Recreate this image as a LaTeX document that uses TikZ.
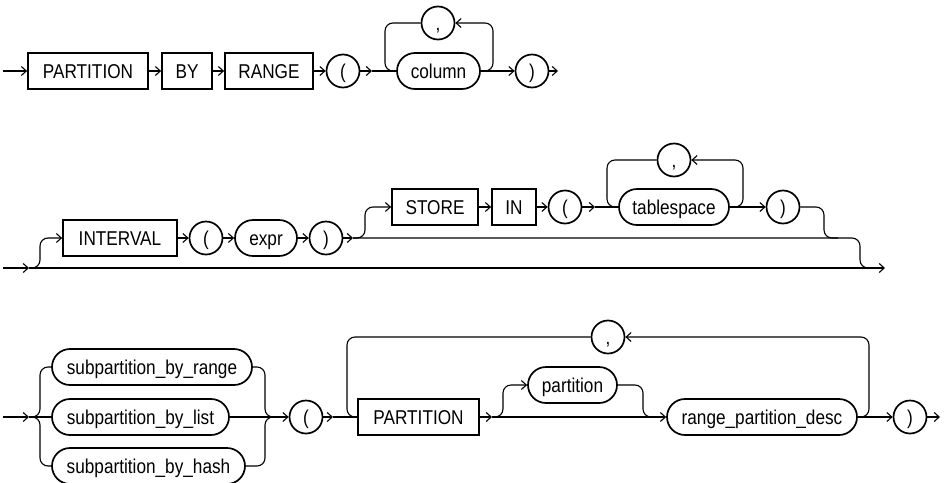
\documentclass[tikz,border=0pt]{standalone}
\usepackage{fontspec}
\setmainfont{Liberation Sans}[FakeStretch=0.86]
\usetikzlibrary{arrows.meta}
\begin{document}
\begin{tikzpicture}[x=1pt,y=-1pt,
  every node/.style={font=\fontsize{20}{23}\selectfont, inner sep=0pt, text height=14.3pt, text depth=0pt},
  kw/.style={draw, line width=1.7pt, minimum height=36pt},
  nt/.style={draw, line width=1.7pt, minimum height=36pt, rounded corners=18pt},
  ch/.style={draw, line width=1.7pt, circle, minimum size=33pt},
  conn/.style={line width=1.1pt, rounded corners=8pt},
  arr/.style={-{Straight Barb[length=5pt,width=9pt]}}]
\useasboundingbox (0,0) rectangle (944,482);

% ---------- Row 1 ----------
\node[kw, minimum width=120pt] (p1) at (88,71) {PARTITION};
\node[kw, minimum width=50pt] (by1) at (187,71) {BY};
\node[kw, minimum width=88pt] (rng1) at (269,71) {RANGE};
\node[ch] (lp1) at (343,71) {(};
\node[nt, minimum width=83pt] (col1) at (438.5,71) {column};
\node[ch] (cm1) at (438,23) {,};
\node[ch] (rp1) at (532,71) {)};
\coordinate (s1) at (3,71);
\coordinate (j1) at (372,71);
\coordinate (e1) at (558,71);
\draw[conn,arr] (s1) -- (p1.west);
\draw[conn,arr] (p1) -- (by1);
\draw[conn,arr] (by1) -- (rng1);
\draw[conn,arr] (rng1) -- (lp1);
\draw[conn,arr] (lp1) -- (j1);
\draw[conn] (j1) -- (col1.west);
\draw[conn,arr] (col1) -- (rp1);
\draw[conn,arr] (rp1) -- (e1);
\draw[conn,arr] (col1.east) -- (493,71) -- (493,23) -- (cm1.east);
\draw[conn] (cm1.west) -- (385,23) -- (385,71) -- (col1.west);

% ---------- Row 2 ----------
\node[kw, minimum width=114pt] (int2) at (120,238) {INTERVAL};
\node[ch] (lp2) at (206,238) {(};
\node[nt, minimum width=62pt] (expr2) at (266,238) {expr};
\node[ch] (rp2) at (326,238) {)};
\node[kw, minimum width=86pt] (store2) at (435,207) {STORE};
\node[kw, minimum width=44pt] (in2) at (514,207) {IN};
\node[ch] (lp2b) at (565,207) {(};
\node[nt, minimum width=110pt] (ts2) at (674,207) {tablespace};
\node[ch] (cm2) at (674,160) {,};
\node[ch] (rp2b) at (783,207) {)};
\coordinate (s2) at (3,268);
\coordinate (b2) at (29,268);
\coordinate (e2) at (885,268);
\coordinate (j2) at (353,238);
\coordinate (j3) at (595,207);
\draw[conn,arr] (s2) -- (b2);
\draw[conn,arr] (b2) -- (e2);
\draw[conn,arr] (b2) -- (40,268) -- (40,238) -- (int2.west);
\draw[conn,arr] (int2) -- (lp2);
\draw[conn,arr] (lp2) -- (expr2);
\draw[conn,arr] (expr2) -- (rp2);
\draw[conn,arr] (rp2) -- (j2);
\draw[conn] (j2) -- (860,238) -- (860,268) -- (874,268);
\draw[conn,arr] (j2) -- (365,238) -- (365,207) -- (store2.west);
\draw[conn,arr] (store2) -- (in2);
\draw[conn,arr] (in2) -- (lp2b);
\draw[conn,arr] (lp2b) -- (j3);
\draw[conn] (j3) -- (ts2.west);
\draw[conn,arr] (ts2) -- (rp2b);
\draw[conn,arr] (ts2.east) -- (743,207) -- (743,160) -- (cm2.east);
\draw[conn] (cm2.west) -- (607,160) -- (607,207) -- (ts2.west);
\draw[conn] (rp2b.east) -- (824,207) -- (824,238) -- (838,238);

% ---------- Row 3 ----------
\node[nt, minimum width=200pt] (sr3) at (152,367) {subpartition\_by\_range};
\node[nt, minimum width=177pt] (sl3) at (140.5,417) {subpartition\_by\_list};
\node[nt, minimum width=193pt] (sh3) at (148.5,466) {subpartition\_by\_hash};
\node[ch] (lp3) at (306,417) {(};
\node[kw, minimum width=121pt] (part3) at (418.5,417) {PARTITION};
\node[nt, minimum width=89pt] (pt3) at (572.5,385) {partition};
\node[nt, minimum width=190pt] (rpd3) at (762,417) {range\_partition\_desc};
\node[ch] (cm3) at (608,337) {,};
\node[ch] (rp3) at (910,417) {)};
\coordinate (s3) at (3,417);
\coordinate (b3) at (29,417);
\coordinate (j4) at (333,417);
\coordinate (j5) at (492,417);
\coordinate (e3) at (940,417);
\draw[conn,arr] (s3) -- (b3);
\draw[conn] (b3) -- (sl3.west);
\draw[conn] (b3) -- (40,417) -- (40,367) -- (sr3.west);
\draw[conn] (b3) -- (40,417) -- (40,466) -- (sh3.west);
\draw[conn] (sr3.east) -- (265,367) -- (265,417) -- (280,417);
\draw[conn] (sh3.east) -- (265,466) -- (265,417) -- (280,417);
\draw[conn,arr] (sl3) -- (lp3);
\draw[conn,arr] (lp3) -- (j4);
\draw[conn] (j4) -- (part3.west);
\draw[conn,arr] (part3) -- (j5);
\draw[conn,arr] (j5) -- (rpd3.west);
\draw[conn,arr] (j5) -- (503,417) -- (503,385) -- (pt3.west);
\draw[conn] (pt3.east) -- (643,385) -- (643,417) -- (656,417);
\draw[conn,arr] (rpd3) -- (rp3);
\draw[conn,arr] (rp3) -- (e3);
\draw[conn,arr] (rpd3.east) -- (869,417) -- (869,337) -- (cm3.east);
\draw[conn] (cm3.west) -- (347,337) -- (347,417) -- (part3.west);
\end{tikzpicture}
\end{document}
